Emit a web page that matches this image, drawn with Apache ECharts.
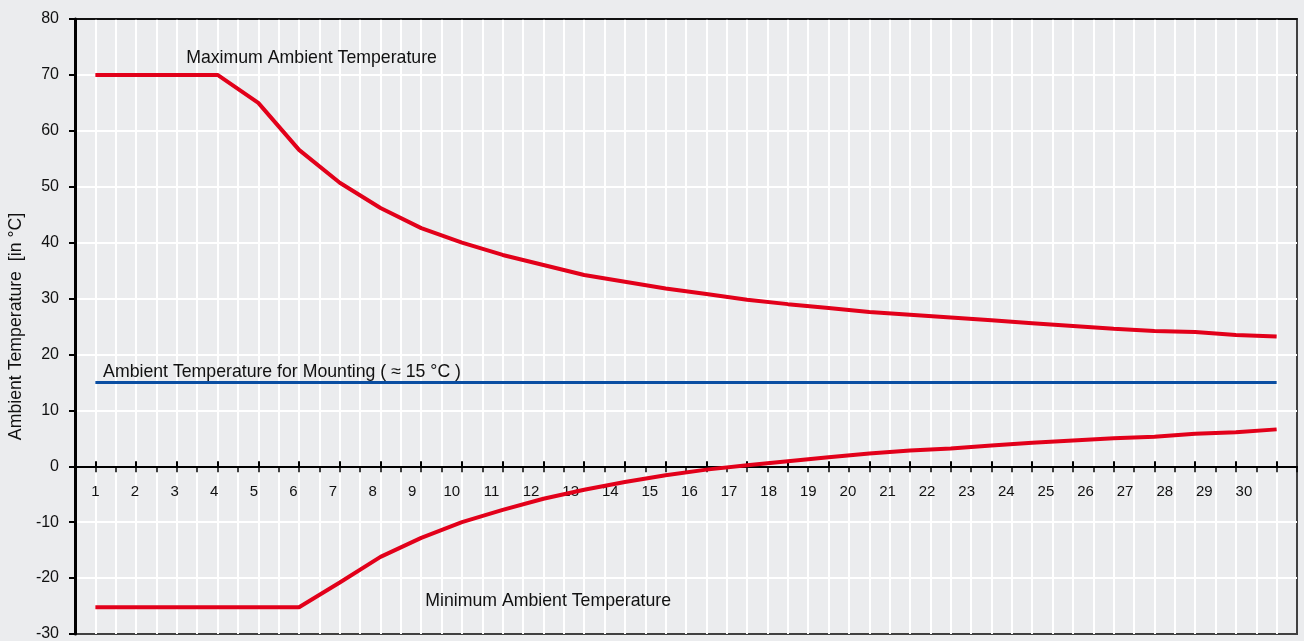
<!DOCTYPE html>
<html>
<head>
<meta charset="utf-8">
<script src="https://cdn.jsdelivr.net/npm/echarts@6/dist/echarts.min.js"></script>
<style>
html, body { margin: 0; padding: 0; background: #ebecee; }
#chart { width: 1304px; height: 641px; }
</style>
</head>
<body>
<div id="chart"></div>
<script>
// tick labels on the x axis (one per point)
const days = [1, 2, 3, 4, 5, 6, 7, 8, 9, 10, 11, 12, 13, 14, 15, 16, 17, 18, 19, 20, 21, 22, 23, 24, 25, 26, 27, 28, 29, 30];
const maxTemp = [70, 70, 70, 70, 65, 56.6, 50.7, 46.2, 42.6, 40.0, 37.8, 36.0, 34.2, 33.0, 31.8, 30.8, 29.8, 29.0, 28.3, 27.6, 27.1, 26.6, 26.1, 25.6, 25.1, 24.6, 24.2, 24.0, 23.5, 23.2];
const minTemp = [-25.2, -25.2, -25.2, -25.2, -25.2, -25.2, -20.8, -16.2, -12.8, -10.0, -7.8, -5.8, -4.2, -2.8, -1.6, -0.6, 0.2, 0.9, 1.6, 2.3, 2.8, 3.2, 3.7, 4.2, 4.6, 5.0, 5.3, 5.8, 6.1, 6.6];
const mountTemp = [15, 15, 15, 15, 15, 15, 15, 15, 15, 15, 15, 15, 15, 15, 15, 15, 15, 15, 15, 15, 15, 15, 15, 15, 15, 15, 15, 15, 15, 15];
// y axis ticks: -30 .. 80 step 10
const yMin = -30, yMax = 80, yStep = 10;

const red = '#e2001a';
const blue = '#0a4ea2';
const font = 'Liberation Sans';

// grid box in px; the extra x axes sit on the zero line of the y axis
const gridTop = 19, gridBottom = 7, chartH = 641;
const plotH = chartH - gridTop - gridBottom;
const zeroOffset = -plotH * (0 - yMin) / (yMax - yMin);

function pairs(vals) {
    return days.map((d, i) => [d, vals[i]]);
}

function note(text, x, y) {
    return {
        coord: [x, y],
        label: {
            show: true,
            formatter: text,
            position: [0, 0],
            align: 'left',
            verticalAlign: 'middle',
            fontFamily: font,
            fontSize: 17.7,
            color: '#111'
        }
    };
}

var chart = echarts.init(document.getElementById('chart'));
var option = {
    backgroundColor: '#ebecee',
    animation: false,
    grid: {
        left: 75,
        right: 7,
        top: gridTop,
        bottom: gridBottom,
        containLabel: false,
        outerBoundsMode: 'none',
        show: true,
        borderColor: '#404040',
        borderWidth: 2
    },
    xAxis: [
        {
            // half-step ticks and white vertical grid
            type: 'value',
            position: 'bottom',
            offset: zeroOffset,
            min: 0.5,
            max: 30.5,
            interval: 0.5,
            axisLine: { show: true, onZero: false, lineStyle: { color: '#000', width: 2 } },
            axisTick: { show: true, inside: false, length: 6, lineStyle: { color: '#000', width: 1.5 } },
            axisLabel: { show: false },
            splitLine: { show: true, showMinLine: false, showMaxLine: false, lineStyle: { color: '#fff', width: 2 } }
        },
        {
            // major ticks poking above the axis
            type: 'value',
            position: 'bottom',
            offset: zeroOffset,
            min: 0.5,
            max: 30.5,
            axisLine: { show: false, onZero: false },
            axisTick: { show: true, inside: true, length: 5, customValues: days, lineStyle: { color: '#000', width: 2 } },
            axisLabel: { show: false },
            splitLine: { show: false }
        },
        {
            // day labels (slightly tighter spacing than the ticks)
            type: 'value',
            position: 'bottom',
            offset: zeroOffset,
            min: 0.485,
            max: 31.34,
            axisLine: { show: false, onZero: false },
            axisTick: { show: false },
            axisLabel: { show: true, customValues: days, margin: 18, fontFamily: font, fontSize: 15, color: '#111' },
            splitLine: { show: false }
        },
        {
            // black top edge
            type: 'value',
            position: 'top',
            min: 0,
            max: 1,
            axisLine: { show: true, onZero: false, lineStyle: { color: '#000', width: 1.5 } },
            axisTick: { show: false },
            axisLabel: { show: false },
            splitLine: { show: false }
        }
    ],
    yAxis: {
        type: 'value',
        min: yMin,
        max: yMax,
        interval: yStep,
        name: 'Ambient Temperature  [in °C]',
        nameLocation: 'middle',
        nameGap: 50,
        nameTextStyle: { fontFamily: font, fontSize: 17.7, color: '#111' },
        axisLine: { show: true, onZero: false, lineStyle: { color: '#000', width: 3 } },
        axisTick: { show: true, length: 6, lineStyle: { color: '#000', width: 2 } },
        axisLabel: { margin: 16, fontFamily: font, fontSize: 16, color: '#111' },
        splitLine: { show: true, showMinLine: false, showMaxLine: false, lineStyle: { color: '#fff', width: 2 } }
    },
    series: [
        {
            name: 'Maximum Ambient Temperature',
            type: 'line',
            xAxisIndex: 0,
            data: pairs(maxTemp),
            symbol: 'none',
            lineStyle: { color: red, width: 4 },
            markPoint: {
                symbol: 'circle',
                symbolSize: 0,
                data: [note('Maximum Ambient Temperature', 3.23, 72.95)]
            }
        },
        {
            name: 'Ambient Temperature for Mounting',
            type: 'line',
            xAxisIndex: 0,
            data: pairs(mountTemp),
            symbol: 'none',
            lineStyle: { color: blue, width: 3 },
            markPoint: {
                symbol: 'circle',
                symbolSize: 0,
                data: [note('Ambient Temperature for Mounting ( \u2248 15 °C )', 1.19, 16.87)]
            }
        },
        {
            name: 'Minimum Ambient Temperature',
            type: 'line',
            xAxisIndex: 0,
            data: pairs(minTemp),
            symbol: 'none',
            lineStyle: { color: red, width: 4 },
            markPoint: {
                symbol: 'circle',
                symbolSize: 0,
                data: [note('Minimum Ambient Temperature', 9.10, -24.04)]
            }
        }
    ]
};
chart.setOption(option);
</script>
</body>
</html>
